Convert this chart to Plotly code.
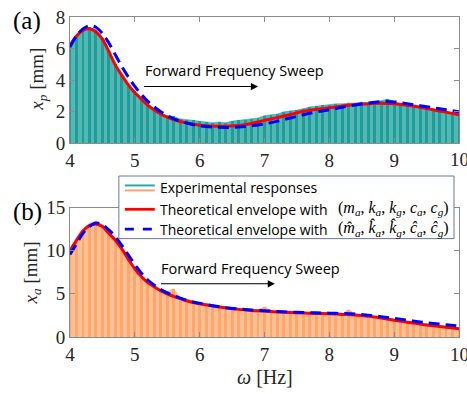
import plotly.graph_objects as go

# ---------------- data ----------------
freq_exp = [round(4.0 + 0.1 * i, 1) for i in range(61)]
xp_exp = [6.1, 6.8, 7.2, 7.35, 7.2, 6.7, 5.9, 5.0, 4.3, 3.7,
          3.3, 2.9, 2.5, 2.2, 1.9, 1.75, 1.7, 1.55, 1.5, 1.45,
          1.4, 1.35, 1.3, 1.35, 1.3, 1.4, 1.45, 1.5, 1.55, 1.6,
          1.75, 1.8, 1.85, 2.0, 2.05, 2.1, 2.2, 2.3, 2.35, 2.4,
          2.45, 2.5, 2.5, 2.55, 2.55, 2.6, 2.55, 2.6, 2.7, 2.8,
          2.65, 2.5, 2.45, 2.35, 2.25, 2.15, 2.1, 2.0, 1.95, 1.85, 1.8]
xa_exp = [9.9, 11.3, 12.5, 13.2, 13.4, 13.0, 12.2, 11.3, 10.3, 9.1,
          8.0, 7.1, 6.4, 5.9, 5.5, 5.3, 5.6, 4.6, 4.4, 4.2,
          4.0, 3.9, 3.8, 3.6, 3.5, 3.45, 3.35, 3.3, 3.2, 3.15,
          3.5, 3.1, 3.0, 2.95, 2.9, 2.9, 2.85, 2.8, 2.8, 2.8,
          2.75, 2.8, 2.7, 3.2, 2.65, 2.55, 2.45, 2.35, 2.2, 2.1,
          2.0, 1.9, 1.8, 1.7, 1.6, 1.5, 1.4, 1.3, 1.2, 1.1, 1.0]

freq_th = [4.0, 4.1, 4.2, 4.3, 4.4, 4.5, 4.6, 4.7, 4.8, 4.9, 5.0, 5.1, 5.2,
           5.3, 5.4, 5.5, 5.6, 5.7, 5.8, 5.9, 6.0, 6.2, 6.4, 6.6, 6.8, 7.0,
           7.2, 7.4, 7.6, 7.8, 8.0, 8.2, 8.4, 8.6, 8.8, 9.0, 9.2, 9.4, 9.6,
           9.8, 10.0]
xp_red = [6.2, 6.8, 7.15, 7.25, 7.05, 6.6, 5.8, 4.95, 4.3, 3.7, 3.2, 2.8, 2.4,
          2.1, 1.85, 1.65, 1.5, 1.38, 1.28, 1.2, 1.14, 1.08, 1.08, 1.12, 1.25,
          1.45, 1.62, 1.82, 2.02, 2.15, 2.25, 2.35, 2.45, 2.5, 2.54, 2.5, 2.4,
          2.28, 2.12, 1.97, 1.81]
xp_blue = [6.1, 6.8, 7.25, 7.45, 7.35, 6.95, 6.35, 5.6, 4.85, 4.2, 3.6, 3.1,
           2.65, 2.3, 2.0, 1.75, 1.55, 1.4, 1.28, 1.18, 1.1, 1.02, 1.0, 1.02,
           1.1, 1.22, 1.4, 1.6, 1.8, 1.98, 2.12, 2.28, 2.42, 2.55, 2.63, 2.62,
           2.5, 2.38, 2.25, 2.12, 2.0]
xa_red = [10.0, 11.2, 12.3, 12.9, 13.08, 12.8, 12.0, 11.2, 10.2, 9.0, 7.9,
          7.0, 6.3, 5.8, 5.35, 5.0, 4.7, 4.45, 4.2, 4.0, 3.85, 3.6, 3.38, 3.2,
          3.08, 3.0, 2.9, 2.83, 2.78, 2.73, 2.69, 2.62, 2.55, 2.4, 2.2, 1.95,
          1.72, 1.5, 1.3, 1.12, 0.96]
xa_blue = [9.55, 10.8, 12.0, 12.8, 13.2, 13.0, 12.4, 11.6, 10.6, 9.5, 8.4,
           7.4, 6.6, 6.0, 5.5, 5.1, 4.8, 4.5, 4.25, 4.05, 3.9, 3.62, 3.4, 3.25,
           3.12, 3.05, 2.95, 2.88, 2.83, 2.8, 2.76, 2.72, 2.65, 2.52, 2.35,
           2.15, 1.95, 1.75, 1.57, 1.42, 1.27]

x_ticks = [4, 5, 6, 7, 8, 9, 10]
yp_ticks = [0, 2, 4, 6, 8]
ya_ticks = [0, 5, 10, 15]

# ---------------- figure ----------------
W, H = 467, 394
ML, MR, MT, MB = 70, 7, 15, 57
PW, PH = W - ML - MR, H - MT - MB


def px(xp):
    return (xp - ML) / PW


def py(yp):
    return (H - MB - yp) / PH


fig = go.Figure()

TEAL_FILL = "rgba(36,167,161,0.8)"
TEAL_BAR = "rgb(30,105,115)"
OR_FILL = "rgba(255,176,118,0.8)"
OR_BAR = "rgb(240,130,85)"

for xa, ya, yvals, red, blue, fillc, barc in [
    ("x", "y", xp_exp, xp_red, xp_blue, TEAL_FILL, TEAL_BAR),
    ("x2", "y2", xa_exp, xa_red, xa_blue, OR_FILL, OR_BAR),
]:
    fig.add_trace(go.Bar(x=freq_exp, y=yvals, width=0.045, marker=dict(color=barc, line=dict(width=0)),
                         xaxis=xa, yaxis=ya, showlegend=False, hoverinfo="skip"))
    fig.add_trace(go.Scatter(x=freq_exp, y=yvals, mode="lines", fill="tozeroy", fillcolor=fillc,
                             line=dict(width=0.6, color=fillc), xaxis=xa, yaxis=ya, showlegend=False))
    fig.add_trace(go.Scatter(x=freq_th, y=red, mode="lines", line=dict(color="#ff0000", width=3, shape="spline"),
                             xaxis=xa, yaxis=ya, showlegend=False))
    fig.add_trace(go.Scatter(x=freq_th, y=blue, mode="lines",
                             line=dict(color="#0000ff", width=3, dash="11px,6px", shape="spline"),
                             xaxis=xa, yaxis=ya, showlegend=False))

tick_font = dict(family="Liberation Serif", size=19, color="#262626")
axis_common = dict(showline=True, linecolor="#8c8c8c", linewidth=1, mirror="ticks", ticks="inside",
                   ticklen=5, tickcolor="#8c8c8c", showgrid=False, zeroline=False, tickfont=tick_font)

fig.update_layout(
    width=W, height=H, margin=dict(l=ML, r=MR, t=MT, b=MB),
    plot_bgcolor="white", paper_bgcolor="white", bargap=0, barmode="overlay",
    xaxis=dict(domain=[0, 1], range=[4, 10], tickvals=x_ticks, anchor="y", **axis_common),
    yaxis=dict(domain=[py(142), 1], range=[0, 8], tickvals=yp_ticks, anchor="x", **axis_common),
    xaxis2=dict(domain=[0, 1], range=[4, 10], tickvals=x_ticks, anchor="y2", **axis_common),
    yaxis2=dict(domain=[0, py(206.7)], range=[0, 15], tickvals=ya_ticks, anchor="x2", **axis_common),
)

serif = "Liberation Serif"
sans = "Open Sans"
ann = []


def A(**kw):
    kw.setdefault("xanchor", "center")
    kw.setdefault("yanchor", "middle")
    kw.setdefault("showarrow", False)
    ann.append(kw)


# axis titles
A(text="<i>x</i><sub><i>p</i></sub> [mm]", x=px(38), y=py(78), xref="paper", yref="paper",
  textangle=-90, font=dict(family=serif, size=19, color="#262626"))
A(text="<i>x</i><sub><i>a</i></sub> [mm]", x=px(32), y=py(273), xref="paper", yref="paper",
  textangle=-90, font=dict(family=serif, size=19, color="#262626"))
A(text="<i>ω</i> [Hz]", x=px(265), y=py(377), xref="paper", yref="paper",
  font=dict(family=serif, size=20, color="#262626"))
# clipped "10" tick labels at right edge
A(text="10", x=10, y=py(158), xref="x", yref="paper", font=tick_font)
A(text="10", x=10, y=py(355), xref="x2", yref="paper", font=tick_font)
# panel labels
A(text="(a)", x=px(27), y=py(19), xref="paper", yref="paper", font=dict(family=serif, size=25, color="black"))
A(text="(b)", x=px(27), y=py(211), xref="paper", yref="paper", font=dict(family=serif, size=25, color="black"))
# sweep labels and arrows
A(text="Forward Frequency Sweep", x=5.12, y=4.6, xref="x", yref="y", xanchor="left",
  font=dict(family=sans, size=14.5, color="black"))
A(text="", x=6.9, y=3.59, ax=5.12, ay=3.59, xref="x", yref="y", axref="x", ayref="y",
  showarrow=True, arrowhead=2, arrowsize=1.3, arrowwidth=1.1, arrowcolor="black")
A(text="Forward Frequency Sweep", x=5.38, y=7.9, xref="x2", yref="y2", xanchor="left",
  font=dict(family=sans, size=14.5, color="black"))
A(text="", x=7.16, y=6.16, ax=5.38, ay=6.16, xref="x2", yref="y2", axref="x2", ayref="y2",
  showarrow=True, arrowhead=2, arrowsize=1.3, arrowwidth=1.1, arrowcolor="black")

# legend (manual)
shapes = [dict(type="rect", xref="paper", yref="paper", x0=px(119), x1=px(455), y0=py(238), y1=py(175),
               fillcolor="white", line=dict(color="#6b7a99", width=1), layer="above")]
legend_lines = [(184.5, "rgb(40,170,165)", "solid", 2), (189.5, "rgb(250,165,115)", "solid", 2),
                (208.5, "#ff0000", "solid", 2.8), (228.5, "#0000ff", "dash", 2.8)]
for yy, col, dash, lw in legend_lines:
    shapes.append(dict(type="line", xref="paper", yref="paper", x0=px(125), x1=px(155), y0=py(yy), y1=py(yy),
                       line=dict(color=col, width=lw, dash=dash), layer="above"))
legend_texts = ["Experimental responses", "Theoretical envelope with", "Theoretical envelope with"]
for yy, t in zip([187, 209, 229], legend_texts):
    A(text=t, x=px(158), y=py(yy), xref="paper", yref="paper", xanchor="left",
      font=dict(family=sans, size=14, color="black"))
math1 = "(<i>m</i><sub><i>a</i></sub>, <i>k</i><sub><i>a</i></sub>, <i>k</i><sub><i>g</i></sub>, <i>c</i><sub><i>a</i></sub>, <i>c</i><sub><i>g</i></sub>)"
math2 = "(<i>m̂</i><sub><i>a</i></sub>, <i>k̂</i><sub><i>a</i></sub>, <i>k̂</i><sub><i>g</i></sub>, <i>ĉ</i><sub><i>a</i></sub>, <i>ĉ</i><sub><i>g</i></sub>)"
A(text=math1, x=px(452), y=py(208), xref="paper", yref="paper", xanchor="right",
  font=dict(family=serif, size=16, color="black"))
A(text=math2, x=px(452), y=py(228), xref="paper", yref="paper", xanchor="right",
  font=dict(family=serif, size=16, color="black"))

fig.update_layout(annotations=ann, shapes=shapes)
fig.write_html("out.html")
